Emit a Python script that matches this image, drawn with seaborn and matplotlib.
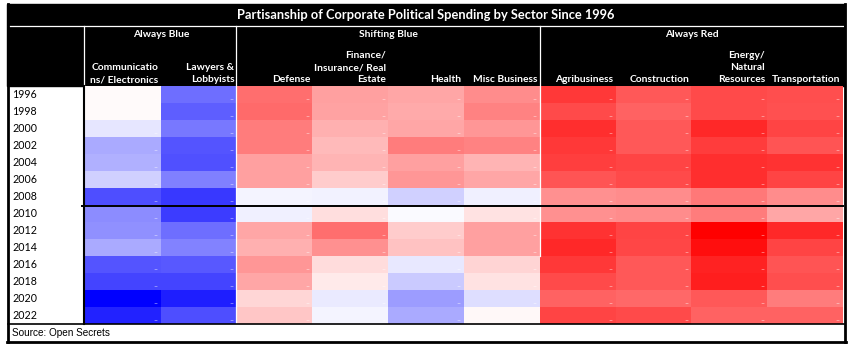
import numpy as np
import pandas as pd
import matplotlib.pyplot as plt
import seaborn as sns
from matplotlib.colors import LinearSegmentedColormap
from matplotlib.patches import Rectangle

# Net partisan lean of sector spending (-100 = all Democratic, +100 = all Republican)
years = ["1996", "1998", "2000", "2002", "2004", "2006", "2008",
         "2010", "2012", "2014", "2016", "2018", "2020", "2022"]
sectors = ["Communicatio\nns/ Electronics", "Lawyers &\nLobbyists", "Defense",
           "Finance/\nInsurance/ Real\nEstate", "Health", "Misc Business",
           "Agribusiness", "Construction", "Energy/\nNatural\nResources", "Transportation"]
groups = ["Always Blue", "Shifting Blue", "Always Red"]
group_sizes = [2, 4, 4]

communications = [2, 2, -10, -33, -31, -18, -69, -45, -43, -33, -67, -73, -100, -86]
lawyers = [-57, -63, -53, -67, -68, -50, -78, -76, -57, -49, -65, -73, -88, -69]
defense = [57, 58, 51, 51, 37, 37, -4, -6, 35, 31, 41, 35, 16, 22]
finance = [37, 36, 31, 27, 29, 20, -5, 13, 57, 43, 14, 8, -8, -4]
health = [35, 33, 35, 51, 37, 41, -18, -2, 20, 24, -9, -21, -39, -33]
misc_business = [45, 49, 41, 49, 29, 35, -6, 11, 37, 37, 17, 11, -13, 3]
agribusiness = [78, 71, 82, 78, 75, 67, 43, 43, 80, 84, 78, 71, 61, 73]
construction = [65, 61, 65, 65, 73, 71, 45, 45, 73, 72, 65, 65, 59, 71]
energy = [71, 71, 84, 76, 82, 82, 53, 51, 100, 94, 86, 88, 65, 61]
transportation = [69, 68, 73, 67, 80, 73, 45, 35, 84, 73, 67, 69, 51, 61]

df = pd.DataFrame(
    np.column_stack([communications, lawyers, defense, finance, health, misc_business,
                     agribusiness, construction, energy, transportation]),
    index=years, columns=sectors)

W, H = 851, 351
fig = plt.figure(figsize=(W / 100, H / 100), dpi=100)
plt.rcParams['font.family'] = ['Lato', 'DejaVu Sans']

# background: black title band and header
bg = fig.add_axes([0, 0, 1, 1], zorder=0)
bg.set_xlim(0, W)
bg.set_ylim(H, 0)
bg.axis('off')
bg.add_patch(Rectangle((7, 4), 838, 82, color='black'))

# heatmap
left, right, top, bottom = 85, 843, 86, 324
ax = fig.add_axes([left / W, 1 - bottom / H, (right - left) / W, (bottom - top) / H], zorder=1)
cmap = LinearSegmentedColormap.from_list('partisan', ['#0000ff', '#ffffff', '#ff0000'])
sns.heatmap(df, ax=ax, cmap=cmap, vmin=-100, vmax=100, cbar=False,
            xticklabels=False, yticklabels=years)
ax.tick_params(axis='y', length=0, pad=73 * 0.72, labelsize=7.7, labelrotation=0)
for lbl in ax.get_yticklabels():
    lbl.set_horizontalalignment('left')
ax.set_xlabel('')
ax.set_ylabel('')

# small marks in cell corners
for i in range(len(years)):
    for j in range(len(sectors)):
        ax.text(j + 0.93, i + 0.78, '–', color='white', alpha=0.8, fontsize=5,
                ha='center', va='center')

# column headers
for j, name in enumerate(sectors):
    ax.text(j + 0.97, -0.1, name, color='white', fontsize=7.4, fontweight='bold',
            ha='right', va='bottom', linespacing=1.45, clip_on=False)

# group headers
start = 0
for g, n in zip(groups, group_sizes):
    ax.text(start + n / 2, -3.05, g, color='white', fontsize=7.4, fontweight='bold',
            ha='center', va='center', clip_on=False)
    start += n

fig.text(426 / W, 1 - 15 / H, 'Partisanship of Corporate Political Spending by Sector Since 1996',
         color='white', fontsize=9.3, fontweight='bold', ha='center', va='center')
fig.text(12 / W, 1 - 333 / H, 'Source: Open Secrets', fontsize=7.2,
         family=['Liberation Sans', 'DejaVu Sans'], ha='left', va='center')

# overlay lines and borders
ov = fig.add_axes([0, 0, 1, 1], zorder=2)
ov.set_xlim(0, W)
ov.set_ylim(H, 0)
ov.axis('off')
ov.patch.set_alpha(0)
ov.plot([8, 843], [25.5, 25.5], color='white', lw=0.9)
ov.plot([83.5, 83.5], [26, 86], color='white', lw=0.9)
ov.plot([235.5, 235.5], [26, 324], color='white', lw=0.9)
ov.plot([539.5, 539.5], [26, 256], color='white', lw=0.9)
ov.plot([83.5, 83.5], [86, 324], color='black', lw=1.5)
ov.plot([82, 843], [205.5, 205.5], color='black', lw=1.4)
ov.plot([8, 844], [324, 324], color='black', lw=1.2)
ov.plot([8, 8], [4, 342], color='black', lw=2)
ov.plot([844.5, 844.5], [4, 342], color='black', lw=2)
ov.plot([7, 845.5], [342, 342], color='black', lw=2)

fig.savefig('out.png', dpi=100)
